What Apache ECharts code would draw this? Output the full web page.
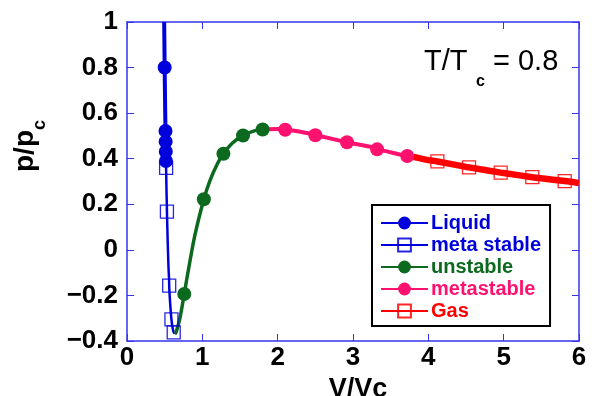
<!DOCTYPE html>
<html>
<head>
<meta charset="utf-8">
<script src="https://cdn.jsdelivr.net/npm/echarts@6/dist/echarts.min.js"></script>
<style>
html, body { margin: 0; padding: 0; background: #fff; }
#main { width: 595px; height: 396px; }
</style>
</head>
<body>
<div id="main"></div>
<script>
// points are [V/Vc, p/pc]
const liquidLine = [[0.4935, 1.0], [0.497, 0.89], [0.500, 0.80], [0.505, 0.66], [0.510, 0.54], [0.512, 0.50], [0.514, 0.45], [0.516, 0.41], [0.517, 0.39]]
const liquidDots = [[0.500, 0.80], [0.511, 0.522], [0.513, 0.475], [0.515, 0.431], [0.517, 0.39]]

const metaLiqLine = [[0.517, 0.39], [0.519, 0.36], [0.525, 0.25], [0.530, 0.17], [0.540, 0.04], [0.550, -0.07], [0.560, -0.155], [0.575, -0.245], [0.590, -0.305], [0.605, -0.342], [0.620, -0.362], [0.635, -0.368]]
const metaLiqDots = [[0.519, 0.36], [0.530, 0.168], [0.560, -0.157], [0.590, -0.305], [0.620, -0.362]]

const unstableLine = [[0.635, -0.368], [0.650, -0.363], [0.700, -0.304], [0.760, -0.194], [0.800, -0.116], [0.900, 0.062], [1.02, 0.222], [1.10, 0.303], [1.20, 0.378], [1.28, 0.422], [1.40, 0.469], [1.54, 0.502], [1.70, 0.523], [1.80, 0.528]]
const unstableDots = [[0.760, -0.194], [1.02, 0.222], [1.28, 0.422], [1.54, 0.502], [1.80, 0.528]]

const metaGasLine = [[1.80, 0.528], [2.00, 0.530], [2.10, 0.527], [2.30, 0.518], [2.50, 0.504], [2.92, 0.472], [3.32, 0.442], [3.80, 0.408]]
const metaGasDots = [[2.10, 0.527], [2.50, 0.503], [2.92, 0.472], [3.32, 0.441], [3.72, 0.412]]

const gasLine = [[3.80, 0.408], [4.00, 0.394], [4.50, 0.364], [5.00, 0.337], [5.50, 0.314], [6.00, 0.293]]
const gasDots = [[4.12, 0.388], [4.54, 0.362], [4.96, 0.339], [5.38, 0.319], [5.81, 0.302]]

const names = ['Liquid', 'meta stable', 'unstable', 'metastable', 'Gas']
const colors = ['#0000dc', '#0000dc', '#0b6a1e', '#ff1170', '#ff0000']

// curve points get no symbol, marked points keep the series symbol
function build(line, dots) {
  const pts = line.map(p => ({ value: p, symbol: 'none' }))
    .concat(dots.map(p => ({ value: p })))
  pts.sort((a, b) => a.value[0] - b.value[0])
  return pts
}

const axisBlue = '#3434ee'
const fmt = v => String(v).replace('-', '\u2212')

function lineSeries(i, line, dots, width, filled) {
  return {
    name: names[i],
    type: 'line',
    data: build(line, dots),
    showAllSymbol: true,
    symbol: filled ? 'circle' : 'rect',
    symbolSize: filled ? 14 : 13,
    smooth: 0.3,
    lineStyle: { color: colors[i], width: width },
    itemStyle: filled
      ? { color: colors[i] }
      : { color: 'rgba(255,255,255,0)', borderColor: colors[i], borderWidth: 1.3, opacity: 0.85 },
    emphasis: { disabled: true },
    animation: false
  }
}

const frameAxis = {
  axisLine: { onZero: false, lineStyle: { color: axisBlue, width: 1.5 } },
  axisTick: { inside: true, length: 7, lineStyle: { color: axisBlue } },
  splitLine: { show: false }
}
const tickFont = { fontSize: 26, fontWeight: 'bold', color: '#000', formatter: fmt }

const chart = echarts.init(document.getElementById('main'))
chart.setOption({
  backgroundColor: '#fff',
  textStyle: { fontFamily: 'Liberation Sans' },
  grid: { left: 127, right: 16, top: 22, bottom: 55, outerBoundsMode: 'none', containLabel: false },
  xAxis: [Object.assign({
    type: 'value', min: 0, max: 6, interval: 1,
    name: 'V/Vc', nameLocation: 'middle', nameGap: 24,
    nameTextStyle: { fontSize: 27, fontWeight: 'bold', color: '#000', padding: [0, 0, 0, 10] },
    axisLabel: Object.assign({ margin: 4 }, tickFont)
  }, frameAxis), Object.assign({
    type: 'value', min: 0, max: 6, interval: 1, position: 'top',
    axisLabel: { show: false }
  }, frameAxis)],
  yAxis: [Object.assign({
    type: 'value', min: -0.4, max: 1, interval: 0.2,
    axisLabel: Object.assign({ margin: 9 }, tickFont)
  }, frameAxis), Object.assign({
    type: 'value', min: -0.4, max: 1, interval: 0.2, position: 'right',
    axisLabel: { show: false }
  }, frameAxis)],
  legend: {
    orient: 'vertical',
    left: 372, top: 205,
    padding: [8, 9, 5, 8],
    itemGap: 2,
    itemWidth: 47, itemHeight: 16,
    backgroundColor: '#fff',
    borderColor: '#000', borderWidth: 2,
    textStyle: { fontSize: 20, fontWeight: 'bold', padding: [0, 0, 0, -2] },
    data: names.map((n, i) => ({ name: n, textStyle: { color: colors[i] } }))
  },
  graphic: [
    { type: 'text', x: 424, y: 62, style: { text: 'T/T', font: '500 29px "Liberation Sans"', fill: '#000', verticalAlign: 'middle' } },
    { type: 'text', x: 476, y: 82, style: { text: 'c', font: 'bold 16px "Liberation Sans"', fill: '#000', verticalAlign: 'middle' } },
    { type: 'text', x: 493, y: 62, style: { text: '= 0.8', font: '500 29px "Liberation Sans"', fill: '#000', verticalAlign: 'middle' } },
    {
      type: 'text', x: 30, y: 146, rotation: Math.PI / 2,
      style: {
        text: '{a|p/p}{b|c}', align: 'center', verticalAlign: 'middle',
        rich: {
          a: { fontSize: 28, fontWeight: 'bold', fontFamily: 'Liberation Sans', fill: '#000', verticalAlign: 'bottom', padding: [0, 0, 10, 0] },
          b: { fontSize: 18, fontWeight: 'bold', fontFamily: 'Liberation Sans', fill: '#000', verticalAlign: 'bottom' }
        }
      }
    }
  ],
  series: [
    lineSeries(0, liquidLine, liquidDots, 4, true),
    lineSeries(1, metaLiqLine, metaLiqDots, 2.5, false),
    lineSeries(2, unstableLine, unstableDots, 3.5, true),
    lineSeries(3, metaGasLine, metaGasDots, 4, true),
    lineSeries(4, gasLine, gasDots, 6.5, false)
  ]
})
</script>
</body>
</html>
